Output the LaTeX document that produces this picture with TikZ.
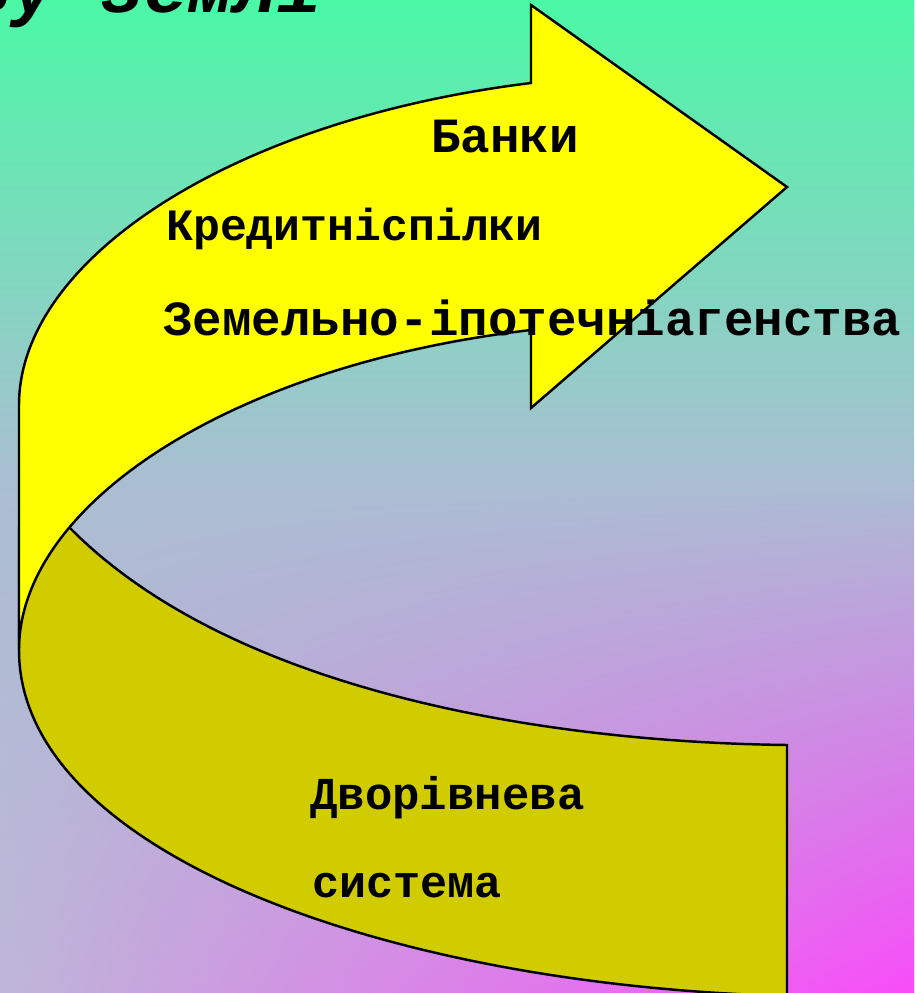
\documentclass[tikz,border=0pt]{standalone}
\usepackage{fontspec}
\setmonofont{Liberation Mono}
\usepackage{tikz}
\usetikzlibrary{positioning,shadings}
\definecolor{bgtop}{HTML}{4BF8A6}
\definecolor{bgmid}{HTML}{AABED2}
\definecolor{bglav}{HTML}{BEB6D8}
\definecolor{bgmag}{HTML}{F84CF8}
\definecolor{bandyellow}{RGB}{255,255,0}
\definecolor{bandolive}{RGB}{208,204,0}

\begin{document}
\begin{tikzpicture}[x=0.02cm, y=-0.02cm,
    band/.style={draw=black, line width=1.4pt, line join=miter},
    txt/.style={inner sep=0pt, anchor=base west, font=\ttfamily\bfseries\fontsize{#1}{#1}\selectfont},
    txt/.default=28,
    head/.style={inner sep=0pt, font=\ttfamily\bfseries\itshape\fontsize{42}{46}\selectfont}]
\useasboundingbox (0,0) rectangle (914,993);
\clip (0,0) rectangle (914,993);

% Background (gradient)
\fill[top color=bgtop, bottom color=bgmid] (0,0) rectangle (914,481);
\shade[upper left=bgmid, upper right=bgmid, lower left=bglav, lower right=bgmag] (0,480) rectangle (914,993);

% Title (cut off at the top)
\node[head, anchor=base east] (title) at (322,13) {ву землі};

% Back band (olive)
\draw[band, fill=bandolive] (19,650) .. controls (19,850) and (380,985) .. (787,996)
    -- (787,745) .. controls (540,742) and (230,690) .. (70,528) -- (19,528) -- cycle;

% Front band with arrow head (yellow)
\draw[band, fill=bandyellow] (19,650) -- (19,405) .. controls (19,260) and (230,120) .. (531,83)
    -- (531,5) -- (787,187) -- (531,408) -- (531,330)
    .. controls (230,365) and (19,505) .. (19,650) -- cycle;

% Labels on the arrow
\node[txt] (banks) at (431,153) {Банки};
\node[txt=25.5] (unions) at (166,240) {Кредитніспілки};
\node[txt] (agencies) at (163,335) {Земельно-іпотечніагенства};

% Labels on the back band
\node[txt=26] (twolevel) at (310,809) {Дворівнева};
\node[txt=25.7] (system) at (312,897) {система};

\end{tikzpicture}
\end{document}
